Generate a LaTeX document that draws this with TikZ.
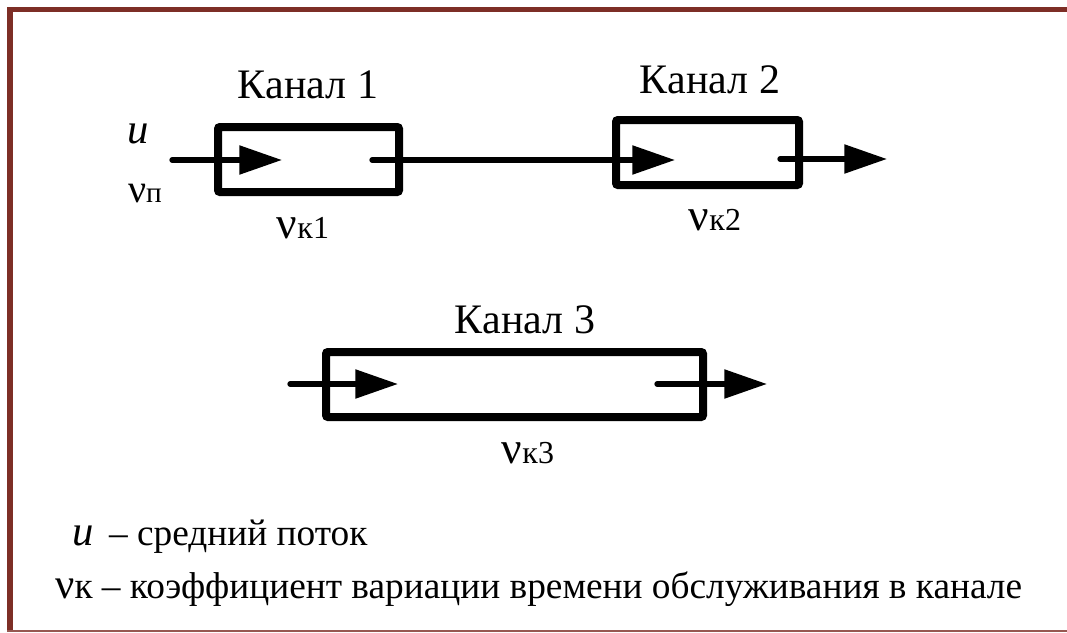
\documentclass[tikz,border=0pt]{standalone}
\usepackage{fontspec}
\setmainfont{Liberation Serif}
\usetikzlibrary{arrows.meta}
\definecolor{framebrown}{RGB}{125,46,38}
\begin{document}
\begin{tikzpicture}[x=0.75pt,y=-0.75pt,
  chan/.style={draw, line width=6pt, rounded corners=1.5pt, inner sep=0pt, minimum height=48.75pt},
  flow/.style={line width=4pt, line cap=round, -{Triangle[length=32pt,width=21pt]}},
  title/.style={font=\fontsize{31.5}{36}\selectfont, anchor=base, inner sep=0pt},
  lab/.style={font=\fontsize{24}{28}\selectfont, anchor=base, inner sep=0pt},
  leg/.style={font=\fontsize{28}{32}\selectfont, anchor=base west, inner sep=0pt}]
\useasboundingbox (0,0) rectangle (1067,632);
\fill[white] (0,0) rectangle (1067,632);
\fill[framebrown] (7,7) rectangle (13,632);
\fill[framebrown] (7,7) rectangle (1067,12);
\fill[framebrown!80] (7,630) rectangle (1067,632);
% channels
\node[chan, minimum width=135.75pt] (k1) at (308.5,159.5) {};
\node[chan, minimum width=137.25pt] (k2) at (707.5,152.5) {};
\node[chan, minimum width=282.75pt] (k3) at (514.5,384.5) {};
% connector ends
\coordinate (s1) at (172,160);
\coordinate (t1) at (282,160);
\coordinate (s2) at (372,160);
\coordinate (t2) at (675,160);
\coordinate (s3) at (780,159);
\coordinate (t3) at (887,159);
\coordinate (s4) at (290,384);
\coordinate (t4) at (398,384);
\coordinate (s5) at (657,384);
\coordinate (t5) at (767,384);
\draw[flow] (s1) -- (t1);
\draw[flow] (s2) -- (t2);
\draw[flow] (s3) -- (t3);
\draw[flow] (s4) -- (t4);
\draw[flow] (s5) -- (t5);
% labels
\node[title] (c1) at (308,98) {Канал 1};
\node[title] (c2) at (710,93) {Канал 2};
\node[title] (c3) at (525,333) {Канал 3};
\node[lab] (v1) at (303,238) {{\fontsize{34}{34}\selectfont ν}к1};
\node[lab] (v2) at (715,230) {{\fontsize{34}{34}\selectfont ν}к2};
\node[lab] (v3) at (528,463) {{\fontsize{34}{34}\selectfont ν}к3};
\node[font=\fontsize{32}{32}\selectfont\itshape, anchor=base, inner sep=0pt] (u) at (138,143) {u};
\node[anchor=base, inner sep=0pt] (vp) at (145,202) {{\fontsize{30}{30}\selectfont ν}{\fontsize{22}{22}\selectfont п}};
% legend
\node[leg] (l1) at (72,545) {{\fontsize{32}{32}\selectfont\itshape u}\, – средний поток};
\node[leg] (l2) at (55,598) {{\fontsize{32}{32}\selectfont ν}к – коэффициент вариации времени обслуживания в канале};
\end{tikzpicture}
\end{document}
